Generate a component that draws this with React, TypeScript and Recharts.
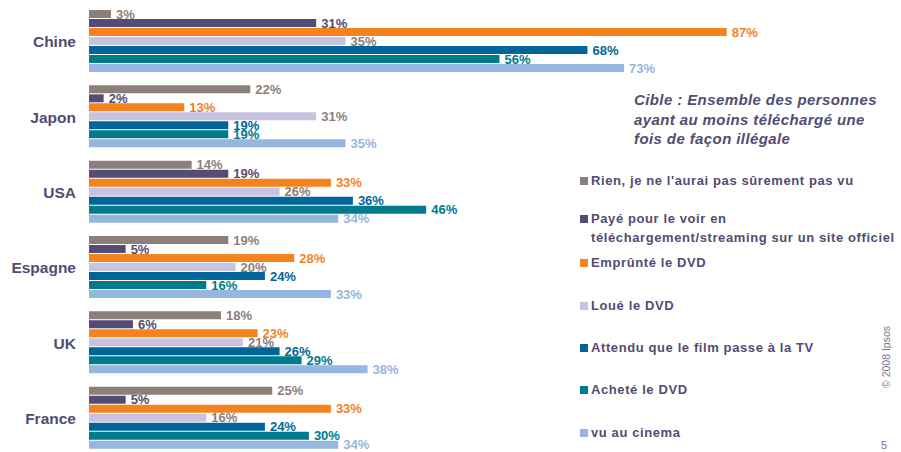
import React from 'react';
import { BarChart, Bar, XAxis, YAxis, LabelList } from 'recharts';

const countries = ['Chine', 'Japon', 'USA', 'Espagne', 'UK', 'France'];

const rien = [3, 22, 14, 19, 18, 25];
const paye = [31, 2, 19, 5, 6, 5];
const emprunte = [87, 13, 33, 28, 23, 33];
const loue = [35, 31, 26, 20, 21, 16];
const attendu = [68, 19, 36, 24, 26, 24];
const achete = [56, 19, 46, 16, 29, 30];
const cinema = [73, 35, 34, 33, 38, 34];

const series = [
  { key: 'rien', name: "Rien, je ne l'aurai pas sûrement pas vu", values: rien, color: '#8c7f7a', labelColor: '#8c7f7a' },
  { key: 'paye', name: 'Payé pour le voir en\ntéléchargement/streaming sur un site officiel', values: paye, color: '#554c75', labelColor: '#554c75' },
  { key: 'emprunte', name: 'Emprûnté le DVD', values: emprunte, color: '#f4821f', labelColor: '#f4821f' },
  { key: 'loue', name: 'Loué le DVD', values: loue, color: '#c7c3e0', labelColor: '#8c7f7a' },
  { key: 'attendu', name: 'Attendu que le film passe à la TV', values: attendu, color: '#006699', labelColor: '#006699' },
  { key: 'achete', name: 'Acheté le DVD', values: achete, color: '#007a8c', labelColor: '#007a8c' },
  { key: 'cinema', name: 'vu au cinema', values: cinema, color: '#95b6de', labelColor: '#95b6de' },
];

const legendTops = [173, 211, 255, 298, 340, 382, 425];

const data = countries.map((c, i) => {
  const row: Record<string, string | number> = { country: c };
  series.forEach((s) => {
    row[s.key] = s.values[i];
  });
  return row;
});

const FONT = '"Liberation Sans", Arial, sans-serif';
const TEXT = '#524c72';

function CountryTick(props: any) {
  const { x, y, payload } = props;
  return (
    <text x={x} y={y} textAnchor="end" dominantBaseline="central" fill={TEXT} fontSize={15.5} fontWeight="bold" fontFamily={FONT}>
      {payload.value}
    </text>
  );
}

export default function App() {
  return (
    <div style={{ position: 'absolute', left: 0, top: 0, width: 901, height: 452, overflow: 'hidden', background: '#fff', fontFamily: FONT }}>
      <BarChart
        width={901}
        height={460}
        data={data}
        layout="vertical"
        margin={{ top: 4, right: 79, left: 0, bottom: 4 }}
        barCategoryGap={6}
        barGap={1}
      >
        <XAxis type="number" domain={[0, 100]} hide />
        <YAxis
          type="category"
          dataKey="country"
          width={89}
          axisLine={false}
          tickLine={false}
          tickSize={0}
          tickMargin={13}
          tick={<CountryTick />}
        />
        {series.map((s) => (
          <Bar key={s.key} dataKey={s.key} name={s.name} fill={s.color} isAnimationActive={false}>
            <LabelList
              dataKey={s.key}
              position="right"
              offset={5}
              formatter={(v: any) => `${v}%`}
              fill={s.labelColor}
              fontSize={13}
              fontWeight="bold"
              fontFamily={FONT}
            />
          </Bar>
        ))}
      </BarChart>

      <div style={{ position: 'absolute', left: 634, top: 90, color: TEXT, fontSize: 15, fontWeight: 'bold', fontStyle: 'italic', lineHeight: '19.5px', letterSpacing: 0.4, whiteSpace: 'nowrap' }}>
        Cible : Ensemble des personnes
        <br />
        ayant au moins téléchargé une
        <br />
        fois de façon illégale
      </div>

      {series.map((s, i) => (
        <div key={s.key} style={{ position: 'absolute', left: 580, top: legendTops[i], display: 'flex', alignItems: 'flex-start' }}>
          <div style={{ width: 8, height: 8, background: s.color, marginTop: 4, marginRight: 3 }} />
          <div style={{ color: TEXT, fontSize: 13, fontWeight: 'bold', lineHeight: '19px', whiteSpace: 'pre', marginTop: -2, letterSpacing: 0.6 }}>{s.name}</div>
        </div>
      ))}

      <div
        style={{
          position: 'absolute',
          left: 886,
          top: 357,
          transform: 'translate(-50%, -50%) rotate(-90deg)',
          color: '#7a7590',
          fontSize: 10.5,
          whiteSpace: 'nowrap',
        }}
      >
        © 2008 Ipsos
      </div>
      <div style={{ position: 'absolute', left: 881, top: 439, color: '#7a7590', fontSize: 11 }}>5</div>
    </div>
  );
}
